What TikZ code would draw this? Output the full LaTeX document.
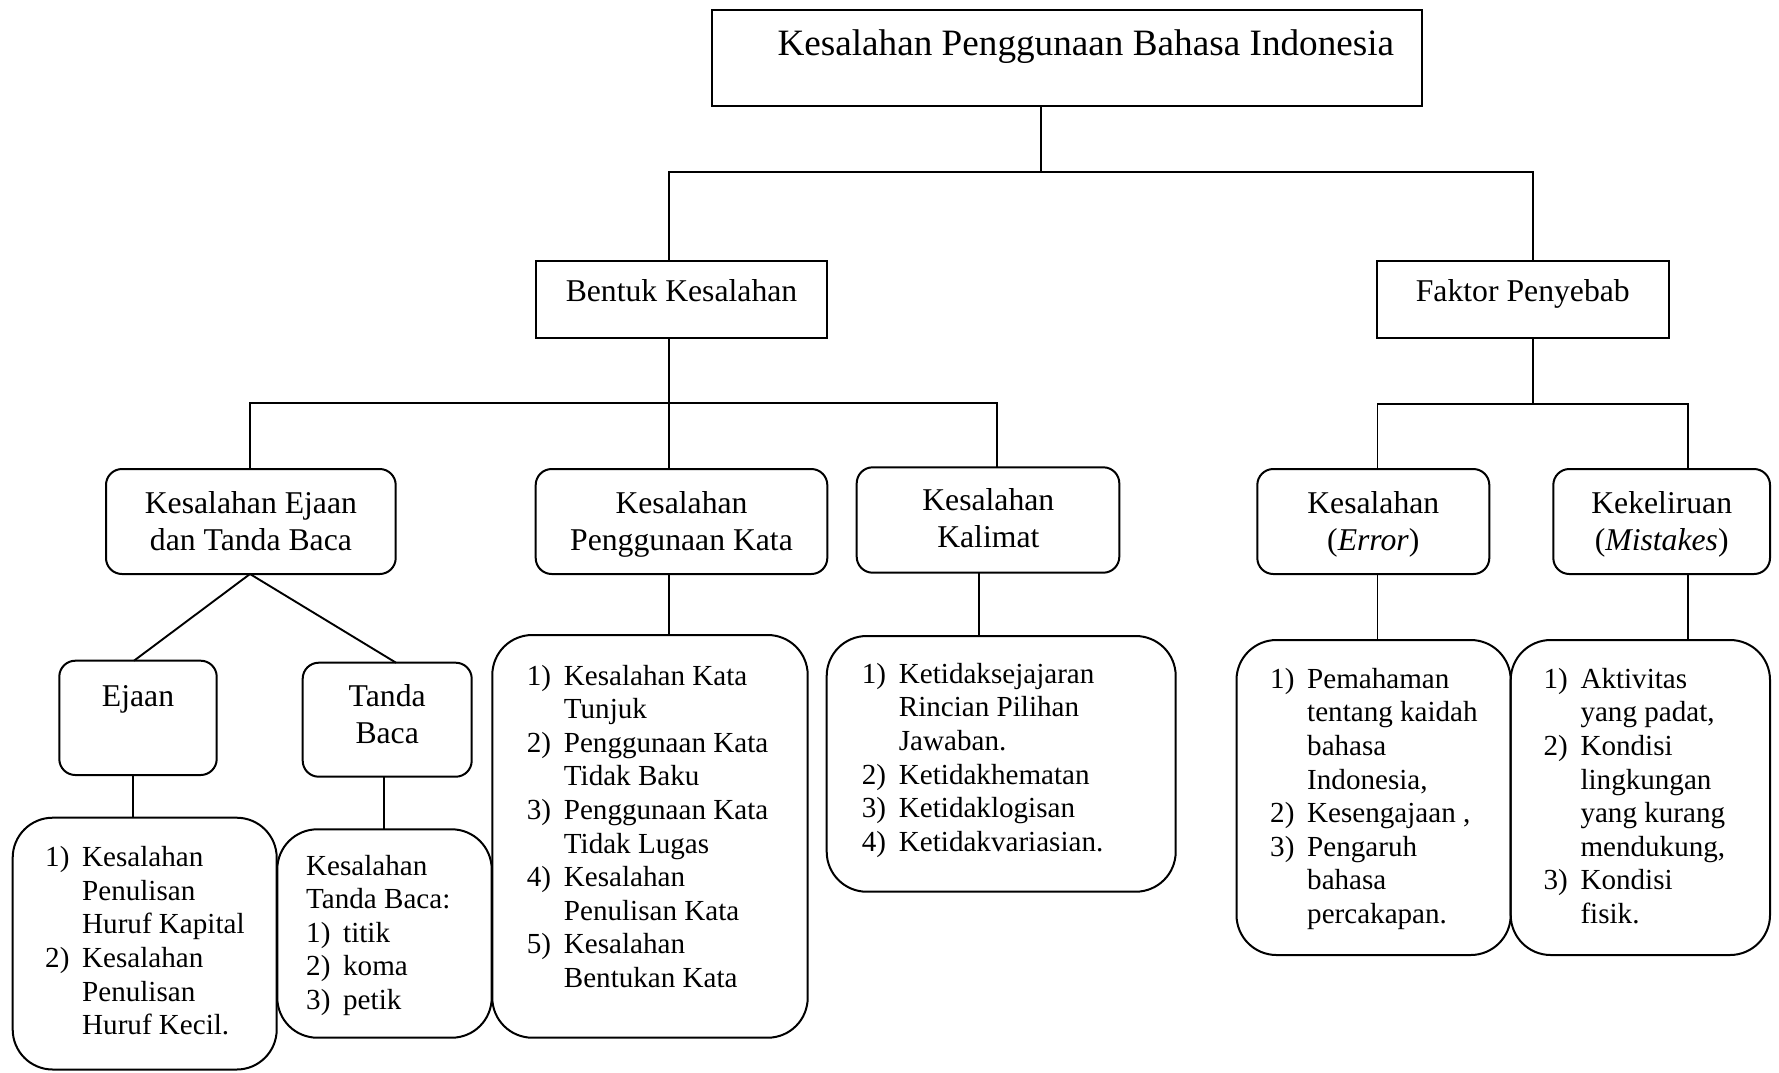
\documentclass[tikz,border=0pt]{standalone}
\usepackage{fontspec}
\setmainfont{Liberation Serif}
\usetikzlibrary{calc}
\tikzset{
 sq/.style={draw, line width=2pt, inner sep=0pt, outer sep=0pt, anchor=north west},
 rbox/.style={sq, rounded corners=16pt},
 lbox/.style={sq, rounded corners=40pt},
 conn/.style={line width=1.9pt},
 ttl/.style={inner sep=0pt, anchor=base west, font=\fontsize{37.2}{42}\selectfont},
 hdr/.style={inner sep=0pt, anchor=base, font=\fontsize{31.7}{37.2}\selectfont},
 lst/.style={inner sep=0pt, anchor=base west, font=\fontsize{29.1}{33.6}\selectfont},
}
\newcommand\mybox[6]{\node[#2, minimum width={(#5)-(#3)}, minimum height={(#6)-(#4)}] (#1) at (#3,#4) {};}
\newcommand\nm[1]{\makebox[37pt][l]{#1}}
\begin{document}
\begin{tikzpicture}[x=1pt,y=-1pt]
\useasboundingbox (0,0) rectangle (1779,1072);
% boxes
\mybox{top}{sq}{712}{9.5}{1421.7}{106}
\mybox{bentuk}{sq}{535.9}{261}{827}{337.7}
\mybox{faktor}{sq}{1376.8}{261}{1668.8}{337.7}
\mybox{ejtb}{rbox}{106}{469}{395.7}{574}
\mybox{pk}{rbox}{535.7}{469}{827.3}{574}
\mybox{kal}{rbox}{856.7}{467.3}{1119.3}{572.7}
\mybox{err}{rbox}{1257.3}{469}{1489.3}{574}
\mybox{mis}{rbox}{1553.3}{469}{1770}{574}
\mybox{ejaan}{rbox}{59.3}{660.7}{216.7}{775}
\mybox{tb}{rbox}{302.7}{662.7}{471.7}{776.7}
\mybox{ejaanL}{lbox}{12.7}{817.7}{276.7}{1069.5}
\mybox{tbL}{lbox}{277.3}{829.3}{491.7}{1037.7}
\mybox{pkL}{lbox}{492.3}{635}{807.7}{1037.7}
\mybox{kalL}{lbox}{826.7}{636}{1175.7}{891.7}
\mybox{errL}{lbox}{1236.5}{640}{1510.7}{955}
\mybox{misL}{lbox}{1510.7}{640}{1770}{955}
% texts
\node[ttl] (tTitle) at (777.3,55.5) {Kesalahan Penggunaan Bahasa Indonesia};
\node[hdr] (tBentuk) at (681.5,301.5) {Bentuk Kesalahan};
\node[hdr] (tFaktor) at (1522.8,301.5) {Faktor Penyebab};
\node[hdr] (tEjtb) at (250.9,513.3) {\begin{tabular}[t]{@{}c@{}}Kesalahan Ejaan\\dan Tanda Baca\end{tabular}};
\node[hdr] (tPk) at (681.5,513.3) {\begin{tabular}[t]{@{}c@{}}Kesalahan\\Penggunaan Kata\end{tabular}};
\node[hdr] (tKal) at (988.3,510.7) {\begin{tabular}[t]{@{}c@{}}Kesalahan\\Kalimat\end{tabular}};
\node[hdr] (tErr) at (1373.3,513.3) {\begin{tabular}[t]{@{}c@{}}Kesalahan\\(\textit{Error})\end{tabular}};
\node[hdr] (tMis) at (1661.7,513.3) {\begin{tabular}[t]{@{}c@{}}Kekeliruan\\(\textit{Mistakes})\end{tabular}};
\node[hdr] (tEjaan) at (138,706.7) {Ejaan};
\node[hdr] (tTb) at (387.2,706.7) {\begin{tabular}[t]{@{}c@{}}Tanda\\Baca\end{tabular}};
\node[lst] (lEjaan) at (45,866.7) {\begin{tabular}[t]{@{}l@{}l@{}}\nm{1)}&Kesalahan\\&Penulisan\\&Huruf Kapital\\\nm{2)}&Kesalahan\\&Penulisan\\&Huruf Kecil.\end{tabular}};
\node[lst] (lTb) at (306,875) {\begin{tabular}[t]{@{}l@{}l@{}}\multicolumn{2}{@{}l@{}}{Kesalahan}\\\multicolumn{2}{@{}l@{}}{Tanda Baca:}\\\nm{1)}&titik\\\nm{2)}&koma\\\nm{3)}&petik\end{tabular}};
\node[lst] (lPk) at (526.7,685) {\begin{tabular}[t]{@{}l@{}l@{}}\nm{1)}&Kesalahan Kata\\&Tunjuk\\\nm{2)}&Penggunaan Kata\\&Tidak Baku\\\nm{3)}&Penggunaan Kata\\&Tidak Lugas\\\nm{4)}&Kesalahan\\&Penulisan Kata\\\nm{5)}&Kesalahan\\&Bentukan Kata\end{tabular}};
\node[lst] (lKal) at (861.7,683.3) {\begin{tabular}[t]{@{}l@{}l@{}}\nm{1)}&Ketidaksejajaran\\&Rincian Pilihan\\&Jawaban.\\\nm{2)}&Ketidakhematan\\\nm{3)}&Ketidaklogisan\\\nm{4)}&Ketidakvariasian.\end{tabular}};
\node[lst] (lErr) at (1270,688.3) {\begin{tabular}[t]{@{}l@{}l@{}}\nm{1)}&Pemahaman\\&tentang kaidah\\&bahasa\\&Indonesia,\\\nm{2)}&Kesengajaan ,\\\nm{3)}&Pengaruh\\&bahasa\\&percakapan.\end{tabular}};
\node[lst] (lMis) at (1543.3,688.3) {\begin{tabular}[t]{@{}l@{}l@{}}\nm{1)}&Aktivitas\\&yang padat,\\\nm{2)}&Kondisi\\&lingkungan\\&yang kurang\\&mendukung,\\\nm{3)}&Kondisi\\&fisik.\end{tabular}};
% junction coordinates
\coordinate (jTop) at (1040.8,171.7);
\coordinate (jB) at (668.8,171.7);
\coordinate (jF) at (1532.6,171.7);
\coordinate (kB) at (668.8,402.7);
\coordinate (kE) at (250,402.7);
\coordinate (kK) at (997.4,402.7);
\coordinate (kF) at (1532.6,404);
\coordinate (kR) at (1377.5,404);
\coordinate (kM) at (1687.7,404);
\coordinate (dE) at (134,0);
\coordinate (dT) at (396,0);
\coordinate (vE) at (133.3,0);
\coordinate (vT) at (384,0);
\coordinate (vK) at (978.7,0);
% connectors
\draw[conn] (top.south -| jTop) -- (jTop);
\draw[conn] (bentuk.north -| jB) -- (jB) -- (jF) -- (faktor.north -| jF);
\draw[conn] (bentuk.south -| kB) -- (pk.north -| kB);
\draw[conn] (ejtb.north -| kE) -- (kE) -- (kK) -- (kal.north -| kK);
\draw[conn] (faktor.south -| kF) -- (kF);
\draw[conn] (err.north -| kR) -- (kR) -- (kM) -- (mis.north -| kM);
\draw[conn] (ejaan.north -| dE) -- (ejtb.south -| kE) -- (tb.north -| dT);
\draw[conn] (ejaan.south -| vE) -- (ejaanL.north -| vE);
\draw[conn] (tb.south -| vT) -- (tbL.north -| vT);
\draw[conn] (pk.south -| kB) -- (pkL.north -| kB);
\draw[conn] (kal.south -| vK) -- (kalL.north -| vK);
\draw[conn] (err.south -| kR) -- (errL.north -| kR);
\draw[conn] (mis.south -| kM) -- (misL.north -| kM);
\end{tikzpicture}
\end{document}
